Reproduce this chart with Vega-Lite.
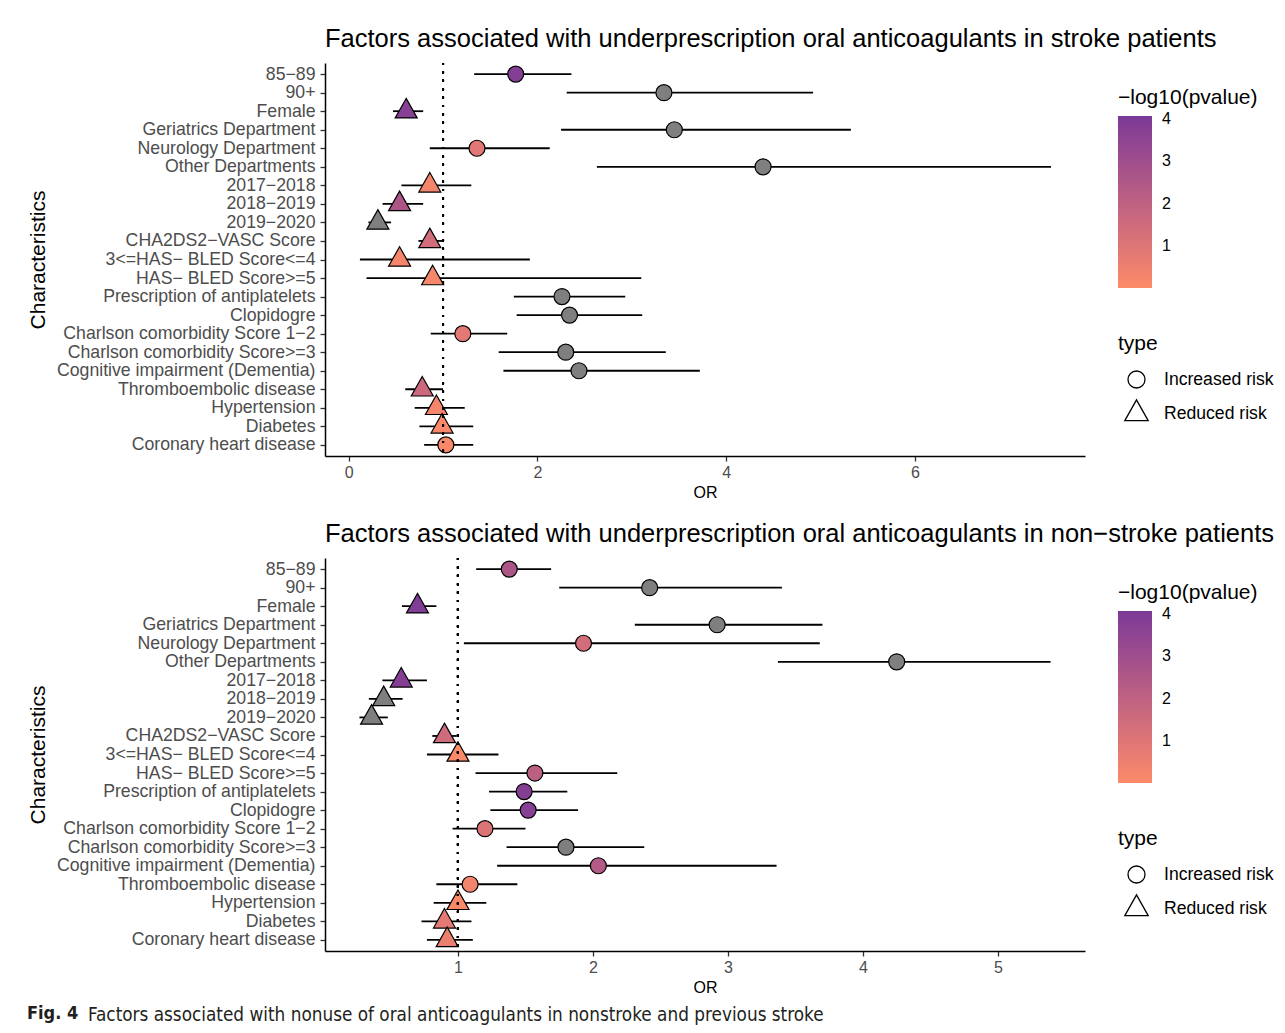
{
  "$schema": "https://vega.github.io/schema/vega-lite/v6.json",
  "background": "white",
  "padding": {"left": 27, "top": 26, "right": 0, "bottom": 0},
  "config": {
    "font": "Liberation Sans",
    "view": {"stroke": null},
    "axis": {
      "grid": false,
      "domainColor": "black",
      "domainWidth": 1.5,
      "tickColor": "#333333",
      "tickWidth": 1.3,
      "tickSize": 5,
      "labelColor": "#4d4d4d",
      "titleColor": "black",
      "titleFontWeight": "normal",
      "labelLimit": 500
    },
    "title": {"fontWeight": "normal", "color": "black"}
  },
  "datasets": {
    "stroke": [
      {"label": "85−89", "or": 1.77, "lo": 1.33, "hi": 2.36, "logp": 3.8, "type": "Increased risk"},
      {"label": "90+", "or": 3.34, "lo": 2.31, "hi": 4.92, "logp": null, "type": "Increased risk"},
      {"label": "Female", "or": 0.61, "lo": 0.47, "hi": 0.79, "logp": 3.75, "type": "Reduced risk"},
      {"label": "Geriatrics Department", "or": 3.45, "lo": 2.25, "hi": 5.32, "logp": null, "type": "Increased risk"},
      {"label": "Neurology Department", "or": 1.36, "lo": 0.86, "hi": 2.13, "logp": 0.9, "type": "Increased risk"},
      {"label": "Other Departments", "or": 4.39, "lo": 2.63, "hi": 7.44, "logp": null, "type": "Increased risk"},
      {"label": "2017−2018", "or": 0.86, "lo": 0.56, "hi": 1.3, "logp": 0.3, "type": "Reduced risk"},
      {"label": "2018−2019", "or": 0.54, "lo": 0.36, "hi": 0.79, "logp": 2.6, "type": "Reduced risk"},
      {"label": "2019−2020", "or": 0.31, "lo": 0.21, "hi": 0.45, "logp": null, "type": "Reduced risk"},
      {"label": "CHA2DS2−VASC Score", "or": 0.86, "lo": 0.74, "hi": 0.99, "logp": 1.4, "type": "Reduced risk"},
      {"label": "3<=HAS− BLED Score<=4", "or": 0.54, "lo": 0.12, "hi": 1.92, "logp": 0.25, "type": "Reduced risk"},
      {"label": "HAS− BLED Score>=5", "or": 0.89, "lo": 0.19, "hi": 3.1, "logp": 0.2, "type": "Reduced risk"},
      {"label": "Prescription of antiplatelets", "or": 2.26, "lo": 1.75, "hi": 2.93, "logp": null, "type": "Increased risk"},
      {"label": "Clopidogre", "or": 2.34, "lo": 1.78, "hi": 3.11, "logp": null, "type": "Increased risk"},
      {"label": "Charlson comorbidity Score 1−2", "or": 1.21, "lo": 0.87, "hi": 1.68, "logp": 0.85, "type": "Increased risk"},
      {"label": "Charlson comorbidity Score>=3", "or": 2.3, "lo": 1.59, "hi": 3.36, "logp": null, "type": "Increased risk"},
      {"label": "Cognitive impairment (Dementia)", "or": 2.44, "lo": 1.64, "hi": 3.72, "logp": null, "type": "Increased risk"},
      {"label": "Thromboembolic disease", "or": 0.78, "lo": 0.6, "hi": 1.0, "logp": 1.6, "type": "Reduced risk"},
      {"label": "Hypertension", "or": 0.93, "lo": 0.7, "hi": 1.23, "logp": 0.25, "type": "Reduced risk"},
      {"label": "Diabetes", "or": 0.99, "lo": 0.75, "hi": 1.32, "logp": 0.12, "type": "Reduced risk"},
      {"label": "Coronary heart disease", "or": 1.03, "lo": 0.8, "hi": 1.32, "logp": 0.1, "type": "Increased risk"}
    ],
    "nonstroke": [
      {"label": "85−89", "or": 1.38, "lo": 1.135, "hi": 1.69, "logp": 2.6, "type": "Increased risk"},
      {"label": "90+", "or": 2.42, "lo": 1.75, "hi": 3.4, "logp": null, "type": "Increased risk"},
      {"label": "Female", "or": 0.7, "lo": 0.585, "hi": 0.84, "logp": 3.9, "type": "Reduced risk"},
      {"label": "Geriatrics Department", "or": 2.92, "lo": 2.31, "hi": 3.7, "logp": null, "type": "Increased risk"},
      {"label": "Neurology Department", "or": 1.93, "lo": 1.044, "hi": 3.68, "logp": 1.4, "type": "Increased risk"},
      {"label": "Other Departments", "or": 4.25, "lo": 3.37, "hi": 5.39, "logp": null, "type": "Increased risk"},
      {"label": "2017−2018", "or": 0.58, "lo": 0.44, "hi": 0.77, "logp": 3.8, "type": "Reduced risk"},
      {"label": "2018−2019", "or": 0.45, "lo": 0.34, "hi": 0.59, "logp": null, "type": "Reduced risk"},
      {"label": "2019−2020", "or": 0.36, "lo": 0.27, "hi": 0.48, "logp": null, "type": "Reduced risk"},
      {"label": "CHA2DS2−VASC Score", "or": 0.9, "lo": 0.81, "hi": 0.99, "logp": 1.5, "type": "Reduced risk"},
      {"label": "3<=HAS− BLED Score<=4", "or": 1.0, "lo": 0.77, "hi": 1.3, "logp": 0.05, "type": "Reduced risk"},
      {"label": "HAS− BLED Score>=5", "or": 1.57, "lo": 1.13, "hi": 2.18, "logp": 2.1, "type": "Increased risk"},
      {"label": "Prescription of antiplatelets", "or": 1.49, "lo": 1.23, "hi": 1.81, "logp": 3.8, "type": "Increased risk"},
      {"label": "Clopidogre", "or": 1.52, "lo": 1.24, "hi": 1.89, "logp": 3.75, "type": "Increased risk"},
      {"label": "Charlson comorbidity Score 1−2", "or": 1.2, "lo": 0.96, "hi": 1.5, "logp": 1.1, "type": "Increased risk"},
      {"label": "Charlson comorbidity Score>=3", "or": 1.8, "lo": 1.36, "hi": 2.38, "logp": null, "type": "Increased risk"},
      {"label": "Cognitive impairment (Dementia)", "or": 2.04, "lo": 1.29, "hi": 3.36, "logp": 2.4, "type": "Increased risk"},
      {"label": "Thromboembolic disease", "or": 1.09, "lo": 0.84, "hi": 1.44, "logp": 0.3, "type": "Increased risk"},
      {"label": "Hypertension", "or": 1.0, "lo": 0.82, "hi": 1.21, "logp": 0.1, "type": "Reduced risk"},
      {"label": "Diabetes", "or": 0.9, "lo": 0.73, "hi": 1.1, "logp": 0.8, "type": "Reduced risk"},
      {"label": "Coronary heart disease", "or": 0.92, "lo": 0.77, "hi": 1.11, "logp": 0.55, "type": "Reduced risk"}
    ]
  },
  "title": {
    "text": "Fig. 4",
    "orient": "bottom",
    "anchor": "start",
    "frame": "bounds",
    "font": "DejaVu Sans Condensed, Liberation Sans Narrow, Roboto, sans-serif",
    "fontSize": 18,
    "fontWeight": "bold",
    "color": "#231f20",
    "offset": 0,
    "dy": -20
  },
  "resolve": {"scale": {"fill": "independent", "shape": "independent"}},
  "vconcat": [
    {
      "title": {
        "text": "Factors associated with nonuse of oral anticoagulants in nonstroke and previous stroke",
        "orient": "bottom",
        "anchor": "start",
        "frame": "bounds",
        "font": "DejaVu Sans Condensed, Liberation Sans Narrow, Roboto, sans-serif",
        "fontSize": 18.8,
        "fontWeight": "normal",
        "color": "#231f20",
        "offset": 11,
        "dx": 61
      },
      "spacing": 21,
      "resolve": {"scale": {"fill": "independent", "shape": "independent"}},
      "vconcat": [
        {
          "width": 760,
          "height": 393,
          "data": {"name": "stroke"},
          "title": {
            "text": "Factors associated with underprescription oral anticoagulants in stroke patients",
            "anchor": "start",
            "frame": "group",
            "fontSize": 25.5,
            "offset": 10
          },
          "layer": [
            {
              "mark": {"type": "rule", "color": "black", "strokeWidth": 1.8},
              "encoding": {
                "y": {
                  "field": "label",
                  "type": "nominal",
                  "sort": null,
                  "scale": {"type": "point", "padding": 0.6},
                  "axis": {"title": "Characteristics", "titleFontSize": 21, "titleX": -287, "titleY": 196.5, "titleAngle": 270, "titleAlign": "center", "titleBaseline": "middle", "labelFontSize": 17.7, "labelPadding": 5}
                },
                "x": {
                  "field": "lo",
                  "type": "quantitative",
                  "scale": {"domain": [-0.25, 7.8], "nice": false, "zero": false},
                  "axis": {"title": "OR", "values": [0, 2, 4, 6], "format": "d", "labelFontSize": 16, "titleFontSize": 16, "labelPadding": 3, "titlePadding": 4}
                },
                "x2": {"field": "hi"}
              }
            },
            {
              "transform": [{"filter": "datum.logp != null"}],
              "mark": {"type": "point", "filled": true, "stroke": "black", "strokeWidth": 1.2, "opacity": 1, "size": 256},
              "encoding": {
                "y": {"field": "label", "type": "nominal", "sort": null},
                "x": {"field": "or", "type": "quantitative"},
                "fill": {
                  "field": "logp",
                  "type": "quantitative",
                  "scale": {"domain": [0.01, 4.07], "range": ["#fc8b68", "#7a3a97"], "interpolate": "lab"},
                  "legend": {
                    "title": "−log10(pvalue)",
                    "orient": "none",
                    "legendX": 793,
                    "legendY": 24,
                    "direction": "vertical",
                    "gradientLength": 172,
                    "gradientThickness": 34,
                    "gradientStrokeWidth": 0,
                    "values": [1, 2, 3, 4],
                    "titleFontSize": 21,
                    "titleFontWeight": "normal",
                    "titleColor": "black",
                    "titlePadding": 8,
                    "labelFontSize": 16,
                    "labelColor": "black",
                    "labelOffset": 10
                  }
                },
                "shape": {
                  "field": "type",
                  "type": "nominal",
                  "scale": {"domain": ["Increased risk", "Reduced risk"], "range": ["circle", "M0,-1.6L1.375,0.84L-1.375,0.84Z"]},
                  "legend": {
                    "title": "type",
                    "orient": "none",
                    "legendX": 793,
                    "legendY": 270,
                    "titleFontSize": 21,
                    "titleFontWeight": "normal",
                    "titleColor": "black",
                    "titlePadding": 16,
                    "labelFontSize": 17.6,
                    "labelColor": "black",
                    "labelOffset": 18,
                    "symbolSize": 289,
                    "symbolFillColor": "white",
                    "symbolStrokeColor": "black",
                    "symbolStrokeWidth": 1.3,
                    "symbolOffset": 9,
                    "rowPadding": 6
                  }
                }
              }
            },
            {
              "transform": [{"filter": "datum.logp == null"}],
              "mark": {"type": "point", "filled": true, "stroke": "black", "strokeWidth": 1.2, "opacity": 1, "size": 256, "fill": "#7f7f7f"},
              "encoding": {
                "y": {"field": "label", "type": "nominal", "sort": null},
                "x": {"field": "or", "type": "quantitative"},
                "shape": {"field": "type", "type": "nominal"}
              }
            },
            {
              "mark": {"type": "rule", "color": "black", "strokeWidth": 2, "strokeDash": [2, 6.4]},
              "encoding": {"x": {"datum": 1}}
            }
          ]
        },
        {
          "width": 760,
          "height": 393,
          "data": {"name": "nonstroke"},
          "title": {
            "text": "Factors associated with underprescription oral anticoagulants in non−stroke patients",
            "anchor": "start",
            "frame": "group",
            "fontSize": 25.5,
            "offset": 10
          },
          "layer": [
            {
              "mark": {"type": "rule", "color": "black", "strokeWidth": 1.8},
              "encoding": {
                "y": {
                  "field": "label",
                  "type": "nominal",
                  "sort": null,
                  "scale": {"type": "point", "padding": 0.6},
                  "axis": {"title": "Characteristics", "titleFontSize": 21, "titleX": -287, "titleY": 196.5, "titleAngle": 270, "titleAlign": "center", "titleBaseline": "middle", "labelFontSize": 17.7, "labelPadding": 5}
                },
                "x": {
                  "field": "lo",
                  "type": "quantitative",
                  "scale": {"domain": [0.015, 5.645], "nice": false, "zero": false},
                  "axis": {"title": "OR", "values": [1, 2, 3, 4, 5], "format": "d", "labelFontSize": 16, "titleFontSize": 16, "labelPadding": 3, "titlePadding": 4}
                },
                "x2": {"field": "hi"}
              }
            },
            {
              "transform": [{"filter": "datum.logp != null"}],
              "mark": {"type": "point", "filled": true, "stroke": "black", "strokeWidth": 1.2, "opacity": 1, "size": 256},
              "encoding": {
                "y": {"field": "label", "type": "nominal", "sort": null},
                "x": {"field": "or", "type": "quantitative"},
                "fill": {
                  "field": "logp",
                  "type": "quantitative",
                  "scale": {"domain": [0.01, 4.07], "range": ["#fc8b68", "#7a3a97"], "interpolate": "lab"},
                  "legend": {
                    "title": "−log10(pvalue)",
                    "orient": "none",
                    "legendX": 793,
                    "legendY": 24,
                    "direction": "vertical",
                    "gradientLength": 172,
                    "gradientThickness": 34,
                    "gradientStrokeWidth": 0,
                    "values": [1, 2, 3, 4],
                    "titleFontSize": 21,
                    "titleFontWeight": "normal",
                    "titleColor": "black",
                    "titlePadding": 8,
                    "labelFontSize": 16,
                    "labelColor": "black",
                    "labelOffset": 10
                  }
                },
                "shape": {
                  "field": "type",
                  "type": "nominal",
                  "scale": {"domain": ["Increased risk", "Reduced risk"], "range": ["circle", "M0,-1.6L1.375,0.84L-1.375,0.84Z"]},
                  "legend": {
                    "title": "type",
                    "orient": "none",
                    "legendX": 793,
                    "legendY": 270,
                    "titleFontSize": 21,
                    "titleFontWeight": "normal",
                    "titleColor": "black",
                    "titlePadding": 16,
                    "labelFontSize": 17.6,
                    "labelColor": "black",
                    "labelOffset": 18,
                    "symbolSize": 289,
                    "symbolFillColor": "white",
                    "symbolStrokeColor": "black",
                    "symbolStrokeWidth": 1.3,
                    "symbolOffset": 9,
                    "rowPadding": 6
                  }
                }
              }
            },
            {
              "transform": [{"filter": "datum.logp == null"}],
              "mark": {"type": "point", "filled": true, "stroke": "black", "strokeWidth": 1.2, "opacity": 1, "size": 256, "fill": "#7f7f7f"},
              "encoding": {
                "y": {"field": "label", "type": "nominal", "sort": null},
                "x": {"field": "or", "type": "quantitative"},
                "shape": {"field": "type", "type": "nominal"}
              }
            },
            {
              "mark": {"type": "rule", "color": "black", "strokeWidth": 2, "strokeDash": [2, 6.4]},
              "encoding": {"x": {"datum": 1}}
            }
          ]
        }
      ]
    }
  ]
}
